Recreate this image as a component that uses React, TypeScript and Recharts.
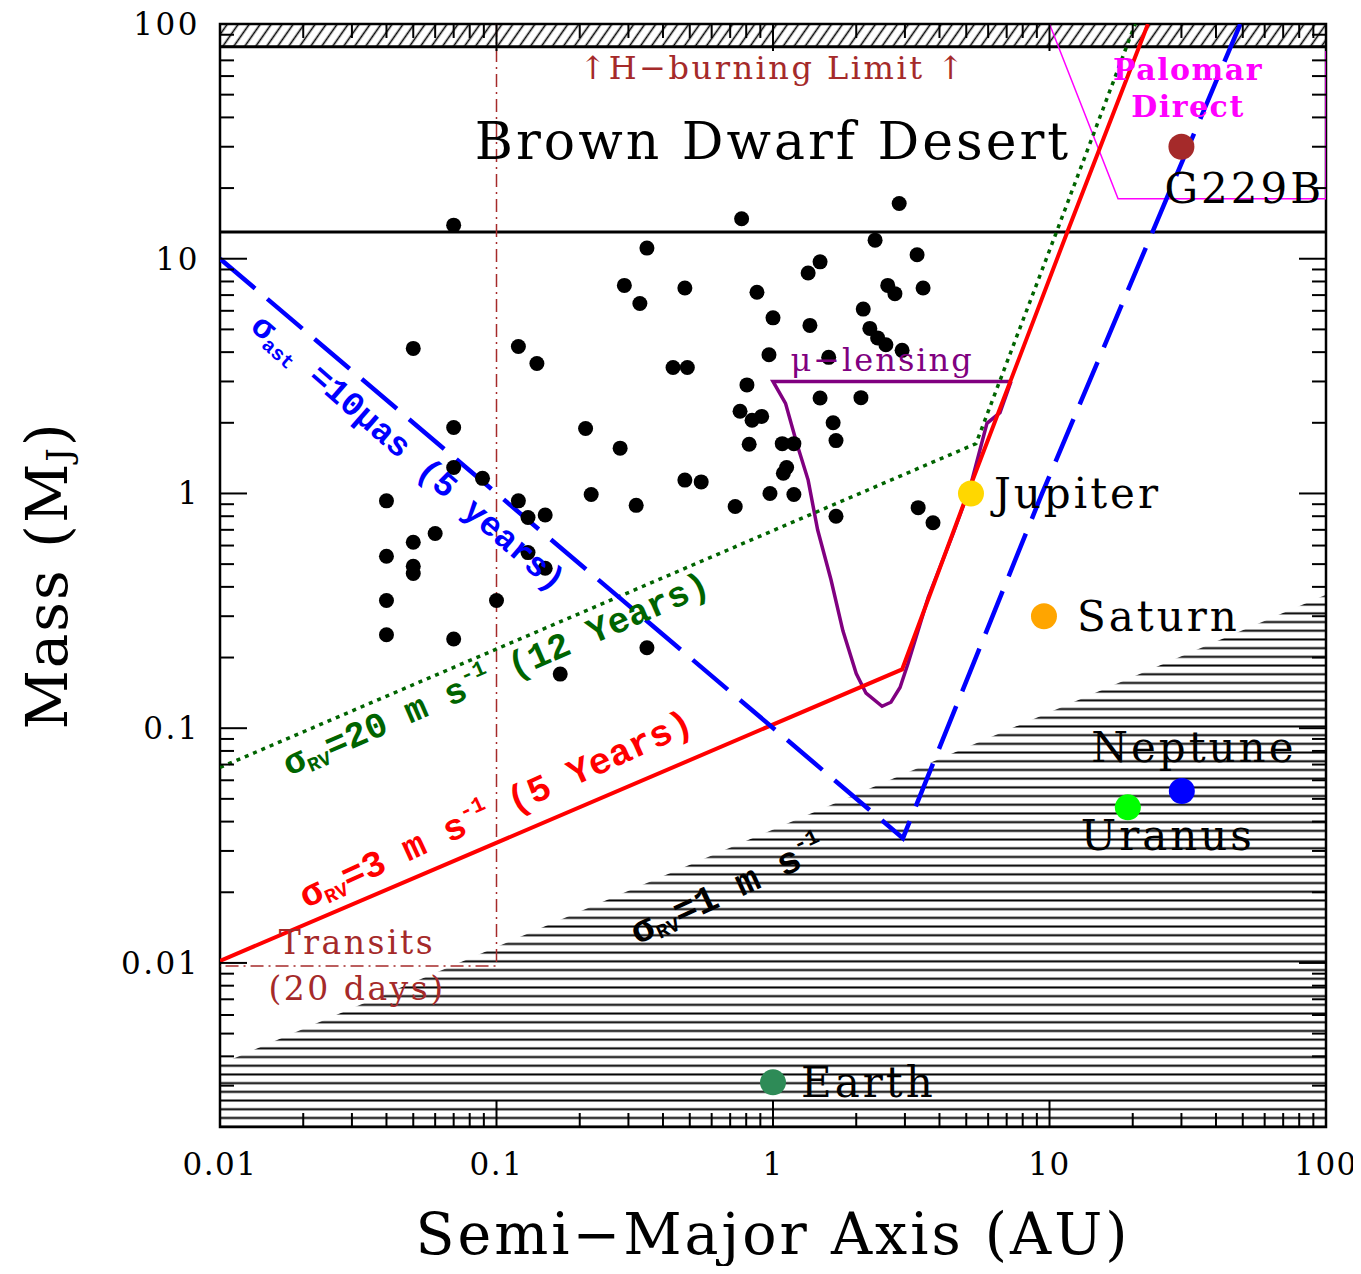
import React from 'react';
import {
  ComposedChart,
  XAxis,
  YAxis,
  Line,
  Area,
  Scatter,
  ReferenceArea,
  ReferenceLine,
  Label,
} from 'recharts';

// layout (the wrapper is pulled up over the body margin)
const W = 1353;
const H = 1266;
const MARGIN = { top: 24, right: 35, bottom: 0, left: 0 };
const Y_AXIS_W = 212;
const X_AXIS_H = 139;
const PLOT_W = W - MARGIN.left - MARGIN.right - Y_AXIS_W;
const PLOT_H = H - MARGIN.top - MARGIN.bottom - X_AXIS_H;

const SERIF = '"DejaVu Serif", serif';
const MONO = '"Liberation Mono", "DejaVu Sans Mono", monospace';

// axes
const X_DOMAIN = [0.01, 100];
const Y_DOMAIN = [0.002, 100];
const xMajor = [0.01, 0.1, 1, 10, 100];
const xMajorLabels = ['0.01', '0.1', '1', '10', '100'];
const yMajor = [0.01, 0.1, 1, 10, 100];
const yMajorLabels = ['0.01', '0.1', '1', '10', '100'];
const minorSteps = [2, 3, 4, 5, 6, 7, 8, 9];

// known exoplanets (semi-major axis AU, mass M_J)
const exoplanets: [number, number][] = [
  [0.07, 13.9], [0.35, 11.1], [0.29, 7.7], [0.48, 7.5], [0.33, 6.45],
  [0.05, 4.15], [0.12, 4.23], [0.14, 3.58], [0.435, 3.44], [0.49, 3.44],
  [0.07, 1.91], [0.21, 1.89], [0.28, 1.56], [0.48, 1.14], [0.07, 1.29],
  [0.089, 1.16], [0.22, 0.99], [0.04, 0.93], [0.12, 0.93], [0.32, 0.89],
  [0.13, 0.79], [0.15, 0.81], [0.06, 0.675], [0.05, 0.62], [0.04, 0.54],
  [0.05, 0.49], [0.05, 0.456], [0.13, 0.56], [0.15, 0.48], [0.04, 0.35],
  [0.1, 0.35], [0.04, 0.25], [0.07, 0.24], [0.35, 0.22], [0.17, 0.17],
  [0.77, 14.8], [2.86, 17.2], [2.34, 12.0], [1.48, 9.7], [1.34, 8.7],
  [3.32, 10.4], [0.875, 7.2], [2.6, 7.7], [2.76, 7.1], [3.49, 7.5],
  [2.12, 6.1], [1.0, 5.6], [1.36, 5.2], [2.24, 5.05], [2.39, 4.6],
  [2.56, 4.3], [2.93, 4.07], [0.967, 3.9], [1.59, 3.8], [0.805, 2.9],
  [1.48, 2.55], [2.08, 2.56], [0.76, 2.24], [0.84, 2.05], [0.91, 2.13],
  [1.65, 2.0], [0.82, 1.62], [1.08, 1.63], [1.19, 1.63], [1.69, 1.68],
  [1.12, 1.29], [1.09, 1.22], [0.55, 1.12], [0.975, 1.0], [1.19, 0.99],
  [0.73, 0.88], [1.69, 0.8], [3.35, 0.87], [3.79, 0.75],
];

// solar system + G229B
const planetNames = ['Jupiter', 'Saturn', 'Uranus', 'Neptune', 'Earth', 'G229B'];
const planetA = [5.2, 9.55, 19.2, 30.1, 1.0, 30];
const planetM = [1.0, 0.3, 0.046, 0.054, 0.0031, 30];

// detection limits
const astroA = [0.01, 2.95, 9.4, 49];
const astroM = [10, 0.034, 1, 100];
const rv3A = [0.01, 2.93, 5.15, 11.6, 22.7];
const rv3M = [0.0102, 0.178, 1.06, 13, 100];
const rv20A = [0.01, 5.42, 10.6, 20.4];
const rv20M = [0.068, 1.63, 13, 100];
const rv1A = [0.01, 100];
const rv1M = [0.0037, 0.37];
const lensA = [7.26, 1.0, 1.11, 1.22, 1.34, 1.45, 1.62, 1.79, 2.0, 2.17, 2.48, 2.67, 2.88, 3.08, 3.64, 4.48, 5.16, 5.94, 6.62, 7.26];
const lensM = [3.0, 3.0, 2.42, 1.63, 1.14, 0.7, 0.43, 0.26, 0.171, 0.141, 0.124, 0.129, 0.149, 0.189, 0.36, 0.675, 1.06, 1.99, 2.21, 3.0];
const transitA = [0.1, 0.1, 0.01];
const transitM = [100, 0.0097, 0.0097];
const palomarA = [10, 17.7, 100, 100];
const palomarM = [100, 18, 18, 100];
const hBurningM = 80;
const deuteriumM = 13;

// annotation anchors (AU, M_J)
const notes = [
  { id: 'hburn', a: 1.0, m: 64.7 },
  { id: 'desert', a: 1.0, m: 31.6 },
  { id: 'transits', a: 0.0313, m: 0.0122 },
  { id: 'days', a: 0.0313, m: 0.0078 },
  { id: 'lensing', a: 2.48, m: 3.69 },
  { id: 'palomar', a: 31.7, m: 64 },
  { id: 'direct', a: 31.7, m: 44.5 },
  { id: 'ast', a: 0.0475, m: 1.47 },
  { id: 'rv20', a: 0.1, m: 0.168 },
  { id: 'rv3', a: 0.1, m: 0.0446 },
  { id: 'rv1', a: 0.688, m: 0.0203 },
];

const pts = (as: number[], ms: number[]) => as.map((a, i) => ({ a, m: ms[i] }));
const astroPts = pts(astroA, astroM);
const rv3Pts = pts(rv3A, rv3M);
const rv20Pts = pts(rv20A, rv20M);
const lensPts = pts(lensA, lensM);
const transitPts = pts(transitA, transitM);
const palomarPts = pts(palomarA, palomarM);
const rv1Band = rv1A.map((a, i) => ({ a, band: [Y_DOMAIN[0], rv1M[i]] }));
const exoPts = exoplanets.map(([a, m]) => ({ a, m }));
const planetPts = planetNames.map((name, i) => ({ name, a: planetA[i], m: planetM[i] }));

const decadeTicks = (from: number, to: number) => {
  const out: number[] = [];
  for (let d = from; d < to; d++) {
    for (const s of [1, ...minorSteps]) out.push(s * Math.pow(10, d));
  }
  out.push(Math.pow(10, to));
  return out;
};
const xTicks = decadeTicks(-2, 2);
const yTicks = [...minorSteps.map((s) => s * 0.001), ...decadeTicks(-2, 2)];

const majorIndex = (v: number, majors: number[]) =>
  majors.findIndex((t) => Math.abs(Math.log10(t) - Math.log10(v)) < 1e-6);

const planetStyle: Record<string, { color: string; dx: number; dy: number; anchor: string }> = {
  Jupiter: { color: '#ffd700', dx: 23, dy: 0, anchor: 'start' },
  Saturn: { color: '#ffa500', dx: 33, dy: 0, anchor: 'start' },
  Uranus: { color: '#00ff00', dx: 40, dy: 28, anchor: 'middle' },
  Neptune: { color: '#0000ff', dx: 12, dy: -44, anchor: 'middle' },
  Earth: { color: '#2e8b57', dx: 28, dy: 0, anchor: 'start' },
  G229B: { color: '#a52a2a', dx: -17, dy: 42, anchor: 'start' },
};

const XTick = (props: any) => {
  const { x, y, payload } = props;
  const idx = majorIndex(payload.value, xMajor);
  const len = idx >= 0 ? 27 : 14;
  return (
    <g>
      <line x1={x} x2={x} y1={y} y2={y - len} stroke="#000" strokeWidth={2} />
      <line x1={x} x2={x} y1={y - PLOT_H} y2={y - PLOT_H + len} stroke="#000" strokeWidth={2} />
      {idx >= 0 && (
        <text x={x} y={y + 37} textAnchor="middle" dominantBaseline="central" fontFamily={SERIF} fontSize={31} letterSpacing={1.5} fill="#000">
          {xMajorLabels[idx]}
        </text>
      )}
    </g>
  );
};

const YTick = (props: any) => {
  const { x, y, payload } = props;
  const idx = majorIndex(payload.value, yMajor);
  const len = idx >= 0 ? 27 : 14;
  return (
    <g>
      <line x1={x} x2={x + len} y1={y} y2={y} stroke="#000" strokeWidth={2} />
      <line x1={x + PLOT_W} x2={x + PLOT_W - len} y1={y} y2={y} stroke="#000" strokeWidth={2} />
      {idx >= 0 && (
        <text x={x - 20} y={y} textAnchor="end" dominantBaseline="central" fontFamily={SERIF} fontSize={31} letterSpacing={2.5} fill="#000">
          {yMajorLabels[idx]}
        </text>
      )}
    </g>
  );
};

const XTitle = () => {
  const cx = MARGIN.left + Y_AXIS_W + PLOT_W / 2;
  const cy = MARGIN.top + PLOT_H + 107;
  return (
    <text x={cx} y={cy} textAnchor="middle" dominantBaseline="central" fontFamily={SERIF} fontSize={57} letterSpacing={3} fill="#000">
      Semi−Major Axis (AU)
    </text>
  );
};

const YTitle = () => {
  const cx = MARGIN.left + 39;
  const cy = MARGIN.top + PLOT_H / 2;
  return (
    <text x={cx} y={cy} transform={`rotate(-90 ${cx} ${cy})`} textAnchor="middle" dominantBaseline="central" fontFamily={SERIF} fontSize={58} letterSpacing={2} fill="#000">
      Mass (M<tspan dy={12} fontSize={34}>J</tspan><tspan dy={-12}>)</tspan>
    </text>
  );
};

const ExoDot = (p: any) => <circle cx={p.cx} cy={p.cy} r={7.5} fill="#000" />;

const PlanetDot = (p: any) => {
  const s = planetStyle[p.payload.name];
  return (
    <g>
      <circle cx={p.cx} cy={p.cy} r={13} fill={s.color} />
      <text x={p.cx + s.dx} y={p.cy + s.dy} textAnchor={s.anchor} dominantBaseline="central" fontFamily={SERIF} fontSize={42} letterSpacing={3} fill="#000">
        {p.payload.name}
      </text>
    </g>
  );
};

const sigma = (sub: string, rest: string, sup?: string, tail?: string) => (
  <>
    σ<tspan dy={9} fontSize={20}>{sub}</tspan>
    <tspan dy={-9}>{rest}</tspan>
    {sup && <tspan dy={-12} fontSize={22}>{sup}</tspan>}
    {sup && <tspan dy={12}>{tail}</tspan>}
  </>
);

const NoteMark = (p: any) => {
  const { cx, cy, payload } = p;
  const base = { x: cx, y: cy, textAnchor: 'middle' as const, dominantBaseline: 'central' as const };
  const rot = (deg: number) => `rotate(${deg} ${cx} ${cy})`;
  switch (payload.id) {
    case 'hburn':
      return <text {...base} fontFamily={SERIF} fontSize={32} letterSpacing={2.5} fill="#a52a2a">↑H−burning Limit ↑</text>;
    case 'desert':
      return <text {...base} fontFamily={SERIF} fontSize={52} letterSpacing={3} fill="#000">Brown Dwarf Desert</text>;
    case 'transits':
      return <text {...base} fontFamily={SERIF} fontSize={33} letterSpacing={2.5} fill="#a52a2a">Transits</text>;
    case 'days':
      return <text {...base} fontFamily={SERIF} fontSize={33} letterSpacing={2.5} fill="#a52a2a">(20 days)</text>;
    case 'lensing':
      return <text {...base} fontFamily={SERIF} fontSize={32} letterSpacing={2} fill="#800080">μ−lensing</text>;
    case 'palomar':
      return <text {...base} fontFamily={SERIF} fontSize={30} letterSpacing={1.5} fontWeight="bold" fill="#ff00ff">Palomar</text>;
    case 'direct':
      return <text {...base} fontFamily={SERIF} fontSize={30} letterSpacing={1.5} fontWeight="bold" fill="#ff00ff">Direct</text>;
    case 'ast':
      return (
        <text {...base} transform={rot(41)} fontFamily={MONO} fontSize={34} fontWeight="bold" fill="#0000ff">
          {sigma('ast', ' =10μas (5 years)')}
        </text>
      );
    case 'rv20':
      return (
        <text {...base} transform={rot(-23.5)} fontFamily={MONO} fontSize={36} fontWeight="bold" fill="#006400">
          {sigma('RV', '=20 m s', '-1', ' (12 Years)')}
        </text>
      );
    case 'rv3':
      return (
        <text {...base} transform={rot(-24.5)} fontFamily={MONO} fontSize={37} fontWeight="bold" fill="#ff0000">
          {sigma('RV', '=3 m s', '-1', ' (5 Years)')}
        </text>
      );
    case 'rv1':
      return (
        <text {...base} transform={rot(-25)} fontFamily={MONO} fontSize={38} fontWeight="bold" fill="#000">
          {sigma('RV', '=1 m s', '-1', '')}
        </text>
      );
    default:
      return null;
  }
};

export default function App() {
  return (
    <div style={{ marginTop: -8, width: W, height: H }}>
      <ComposedChart width={W} height={H} margin={MARGIN}>
        <defs>
          <pattern id="hlines" patternUnits="userSpaceOnUse" width={12} height={8.7}>
            <rect width={12} height={8.7} fill="#fff" />
            <line x1={0} x2={12} y1={4.35} y2={4.35} stroke="#000" strokeWidth={2} />
          </pattern>
          <pattern id="diag" patternUnits="userSpaceOnUse" width={9} height={9} patternTransform="rotate(35)">
            <rect width={9} height={9} fill="#fff" />
            <line x1={4.5} x2={4.5} y1={0} y2={9} stroke="#000" strokeWidth={1.6} />
          </pattern>
        </defs>
        <XAxis
          dataKey="a"
          type="number"
          scale="log"
          domain={X_DOMAIN}
          allowDataOverflow
          ticks={xTicks}
          interval={0}
          tick={<XTick />}
          tickSize={0}
          tickMargin={0}
          tickLine={false}
          axisLine={false}
          height={X_AXIS_H}
        >
          <Label content={<XTitle />} />
        </XAxis>
        <YAxis
          dataKey="m"
          type="number"
          scale="log"
          domain={Y_DOMAIN}
          allowDataOverflow
          ticks={yTicks}
          interval={0}
          tick={<YTick />}
          tickSize={0}
          tickMargin={0}
          tickLine={false}
          axisLine={false}
          width={Y_AXIS_W}
        >
          <Label content={<YTitle />} />
        </YAxis>

        <ReferenceArea x1={X_DOMAIN[0]} x2={X_DOMAIN[1]} y1={hBurningM} y2={Y_DOMAIN[1]} fill="url(#diag)" fillOpacity={1} stroke="none" />
        <Area data={rv1Band} dataKey="band" type="linear" stroke="none" fill="url(#hlines)" fillOpacity={1} isAnimationActive={false} />
        <ReferenceLine y={hBurningM} stroke="#000" strokeWidth={3} />
        <ReferenceLine y={deuteriumM} stroke="#000" strokeWidth={3} />
        <ReferenceArea x1={X_DOMAIN[0]} x2={X_DOMAIN[1]} y1={Y_DOMAIN[0]} y2={Y_DOMAIN[1]} fill="none" stroke="#000" strokeWidth={2.5} />

        <Line data={transitPts} dataKey="m" type="linear" stroke="#a52a2a" strokeWidth={1.5} strokeDasharray="13 5 2 5" dot={false} isAnimationActive={false} />
        <Line data={palomarPts} dataKey="m" type="linear" stroke="#ff00ff" strokeWidth={1.5} dot={false} isAnimationActive={false} />
        <Line data={lensPts} dataKey="m" type="linear" stroke="#800080" strokeWidth={3.5} dot={false} isAnimationActive={false} />
        <Line data={rv3Pts} dataKey="m" type="linear" stroke="#ff0000" strokeWidth={4} dot={false} isAnimationActive={false} />
        <Line data={rv20Pts} dataKey="m" type="linear" stroke="#006400" strokeWidth={3.5} strokeDasharray="4 5" dot={false} isAnimationActive={false} />
        <Line data={astroPts} dataKey="m" type="linear" stroke="#0000ff" strokeWidth={4.5} strokeDasharray="46 16" dot={false} isAnimationActive={false} />

        <Scatter data={exoPts} shape={ExoDot} isAnimationActive={false} />
        <Scatter data={planetPts} shape={PlanetDot} isAnimationActive={false} />
        <Scatter data={notes} shape={NoteMark} isAnimationActive={false} />
      </ComposedChart>
    </div>
  );
}
